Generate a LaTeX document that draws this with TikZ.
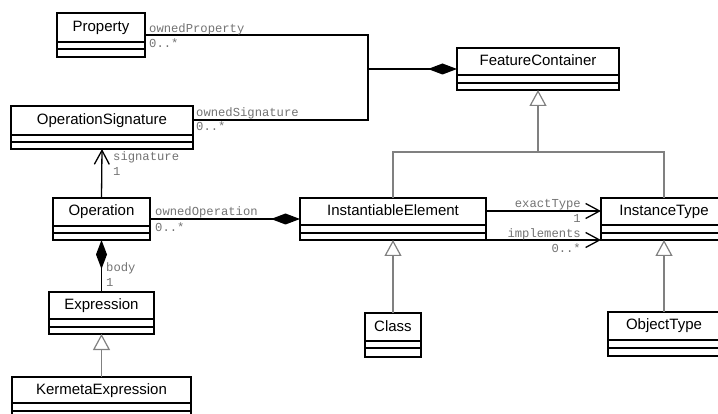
\documentclass[tikz,border=0pt]{standalone}
\usepackage{fontspec}
\setmainfont{Liberation Sans}
\newfontfamily\rolefont{Liberation Mono}
\usetikzlibrary{arrows.meta}

\begin{document}
\begin{tikzpicture}[x=1pt, y=-1pt,
    box/.style={draw, line width=1.6pt, inner sep=0pt, outer sep=0pt},
    assoc/.style={draw, line width=1.3pt},
    comp/.style={assoc, -{Diamond[length=29pt,width=11pt]}},
    nav/.style={assoc, -{Straight Barb[length=14pt,width=15pt]}},
    genline/.style={draw=black!50, line width=1.2pt},
    gen/.style={genline, -{Triangle[open,length=16pt,width=17pt]}},
    role/.style={text=black!55, font=\rolefont\fontsize{12.2}{14}\selectfont, inner sep=0pt}]
    \clip (0,0) rectangle (718,414);
    \foreach \nm/\txt/\xa/\ya/\xb/\yb/\yn/\ym in {
        prop/Property/57/13/145/57/42/49,
        opsig/OperationSignature/11/106/193/149/135/142,
        feat/FeatureContainer/457/48/619/90/75/83,
        inst/InstantiableElement/300/198/486/240/225/233,
        itype/InstanceType/601/198/727/240/225/233,
        op/Operation/53/198/150/240/226/233,
        expr/Expression/49/292/154/334/319/327,
        cls/Class/365/313/421/357/341/348,
        objt/ObjectType/608/312/720/356/340/348,
        kexp/KermetaExpression/12/377/191/425/403/411}{
      \pgfmathsetmacro{\cx}{(\xa+\xb)/2}
      \pgfmathsetmacro{\cy}{(\ya+\yb)/2}
      \pgfmathsetmacro{\ty}{(\ya+\yn)/2}
      \pgfmathsetmacro{\w}{\xb-\xa}
      \pgfmathsetmacro{\h}{\yb-\ya}
      \node[box, minimum width=\w pt, minimum height=\h pt] (\nm) at (\cx,\cy) {};
      \node[font=\fontsize{15}{18}\selectfont, text height=11pt, text depth=3pt] (\nm-name) at (\cx,\ty) {\txt};
      \draw[line width=1.6pt] (\xa,\yn) -- (\xb,\yn) (\xa,\ym) -- (\xb,\ym);
    }

    \coordinate (jtop) at (368,35);
    \coordinate (jbot) at (368,120);
    \coordinate (jmid) at (368,69);
    \coordinate (fork) at (538,152);
    \draw[assoc] (prop.east) -- (jtop) -- (jbot) -- (jbot -| opsig.east);
    \draw[comp] (jmid) -- (feat.west);
    \draw[comp] (op.east) -- (inst.west);
    \draw[comp] (expr.north) -- (op.south);
    \draw[nav] (op.north) -- (opsig.south);
    \draw[nav] ([yshift=8pt]inst.east) -- ([yshift=8pt]itype.west);
    \draw[nav] (inst.south east) -- (itype.south west);

    \draw[genline] (inst.north) |- (fork) -| (itype.north);
    \draw[gen] (fork) -- (feat.south);
    \draw[gen] (cls.north) -- (inst.south);
    \draw[gen] (objt.north) -- (itype.south);
    \draw[gen] (kexp.north) -- (expr.south);

    \node[role, anchor=base west] (r-prop) at (149,33) {ownedProperty};
    \node[role, anchor=base west] (m-prop) at (149,48) {0..*};
    \node[role, anchor=base west] (r-sig) at (196,117) {ownedSignature};
    \node[role, anchor=base west] (m-sig) at (196,131) {0..*};
    \node[role, anchor=base west] (r-sign) at (113,161) {signature};
    \node[role, anchor=base west] (m-sign) at (113,176) {1};
    \node[role, anchor=base west] (r-op) at (155,216) {ownedOperation};
    \node[role, anchor=base west] (m-op) at (155,232) {0..*};
    \node[role, anchor=base west] (r-body) at (106,272) {body};
    \node[role, anchor=base west] (m-body) at (106,287) {1};
    \node[role, anchor=base east] (r-exact) at (581,208) {exactType};
    \node[role, anchor=base east] (m-exact) at (581,223) {1};
    \node[role, anchor=base east] (r-impl) at (581,238) {implements};
    \node[role, anchor=base east] (m-impl) at (581,253) {0..*};
  \end{tikzpicture}
\end{document}
